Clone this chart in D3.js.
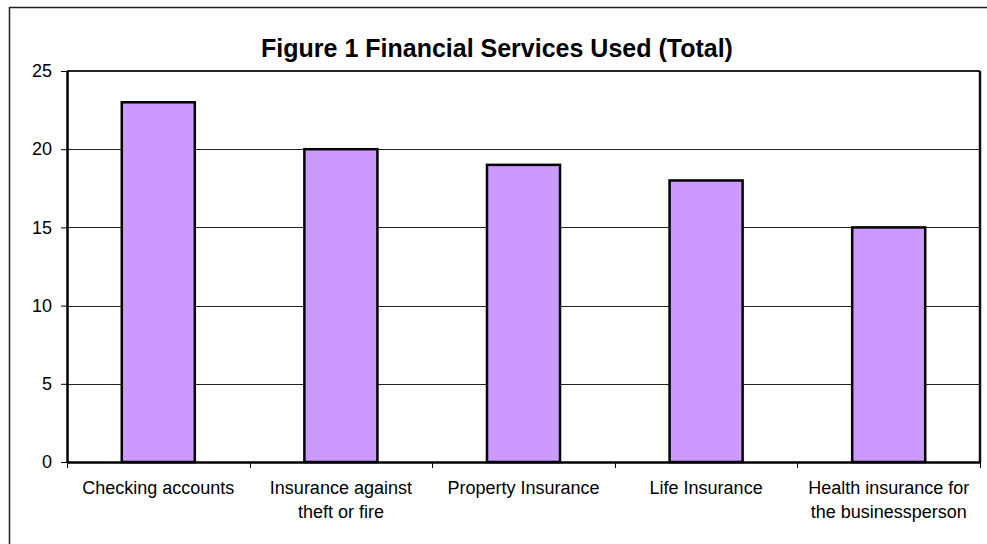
<!DOCTYPE html>
<html>
<head>
<meta charset="utf-8">
<script src="https://cdn.jsdelivr.net/npm/d3@7"></script>
<style>
body { margin: 0; background: white; }
text { font-family: Arial, "Liberation Sans", sans-serif; fill: black; }
</style>
</head>
<body>
<div id="Chart"></div>
<script>
// data
var services = ["Checking accounts", "Insurance against|theft or fire", "Property Insurance", "Life Insurance", "Health insurance for|the businessperson"]
var totals = [23, 20, 19, 18, 15]
var yTicks = [0, 5, 10, 15, 20, 25]
var chartTitle = "Figure 1 Financial Services Used (Total)"

var setup = function()
{
    var screen = {width: 987, height: 544}
    var margins = {top: 71, bottom: 82, left: 67, right: 7}

    var width = screen.width - margins.left - margins.right
    var height = screen.height - margins.top - margins.bottom

    var xScale = d3.scaleBand()
                    .domain(services)
                    .range([0, width])
                    .paddingInner(0.6)
                    .paddingOuter(0.3)

    var yScale = d3.scaleLinear()
                    .domain([0, 25])
                    .range([height, 0])

    var svg = d3.select("#Chart")
    .append("svg")
    .attr("width", screen.width)
    .attr("height", screen.height)

    // outer chart border (runs off the right and bottom of the picture)
    svg.append("rect")
    .attr("x", 9.5)
    .attr("y", 7.5)
    .attr("width", 1000)
    .attr("height", 600)
    .attr("fill", "white")
    .attr("stroke", "#222")
    .attr("stroke-width", 1.5)

    svg.append("text")
    .attr("x", 497)
    .attr("y", 57)
    .style("text-anchor", "middle")
    .style("font-size", "25px")
    .style("font-weight", "bold")
    .text(chartTitle)

    var plot = svg.append("g")
    .attr("transform", "translate(" + margins.left + "," + margins.top + ")")

    // gridlines
    plot.append("g")
    .selectAll("line")
    .data(yTicks.filter(function(t) { return t > 0 }))
    .enter()
    .append("line")
    .attr("x1", 0)
    .attr("x2", width)
    .attr("y1", function(d) { return Math.round(yScale(d)) + 0.5 })
    .attr("y2", function(d) { return Math.round(yScale(d)) + 0.5 })
    .attr("stroke", "#222")
    .attr("stroke-width", 1)

    // plot area top and right edges
    plot.append("line")
    .attr("x1", 0).attr("x2", width)
    .attr("y1", 0).attr("y2", 0)
    .attr("stroke", "#222").attr("stroke-width", 2)
    plot.append("line")
    .attr("x1", width).attr("x2", width)
    .attr("y1", 0).attr("y2", height)
    .attr("stroke", "#111").attr("stroke-width", 2.5)

    // bars
    plot.append("g")
    .selectAll("rect")
    .data(totals)
    .enter()
    .append("rect")
    .attr("x", function(d, i) { return xScale(services[i]) })
    .attr("y", function(d) { return yScale(d) })
    .attr("width", xScale.bandwidth())
    .attr("height", function(d) { return height - yScale(d) })
    .attr("fill", "#CC99FF")
    .attr("stroke", "black")
    .attr("stroke-width", 2.5)

    // y axis
    var yAxis = d3.axisLeft(yScale)
                    .tickValues(yTicks)
                    .tickSize(6)
                    .tickSizeOuter(0)
                    .tickPadding(9)

    var yG = plot.append("g").call(yAxis)
    yG.select(".domain").attr("stroke", "black").attr("stroke-width", 2.5)
    yG.selectAll(".tick line").attr("stroke", "black")
    yG.selectAll(".tick text")
    .style("font-size", "18px")
    .style("font-family", "Arial, 'Liberation Sans', sans-serif")

    // x axis: ticks sit on the category boundaries
    var xAxis = d3.axisBottom(xScale)
                    .tickSize(0)
                    .tickFormat("")

    var xG = plot.append("g")
    .attr("transform", "translate(0," + height + ")")
    .call(xAxis)
    xG.select(".domain").attr("stroke", "black").attr("stroke-width", 2.5)

    var bounds = services.map(function(s) { return xScale(s) - xScale.step() * xScale.paddingInner() / 2 })
    bounds.push(width)
    xG.selectAll("line.bound")
    .data(bounds)
    .enter()
    .append("line")
    .attr("class", "bound")
    .attr("x1", function(d) { return Math.round(d) + 0.5 })
    .attr("x2", function(d) { return Math.round(d) + 0.5 })
    .attr("y1", 0)
    .attr("y2", 6)
    .attr("stroke", "black")

    // category labels, two lines where needed
    var labels = xG.selectAll("text.cat")
    .data(services)
    .enter()
    .append("text")
    .attr("class", "cat")
    .attr("transform", function(d) { return "translate(" + (xScale(d) + xScale.bandwidth() / 2) + ",0)" })
    .style("text-anchor", "middle")
    .style("font-size", "18px")

    labels.selectAll("tspan")
    .data(function(d) { return d.split("|") })
    .enter()
    .append("tspan")
    .attr("x", 0)
    .attr("y", function(d, i) { return 32 + i * 24 })
    .text(function(d) { return d })
}

setup()
</script>
</body>
</html>
